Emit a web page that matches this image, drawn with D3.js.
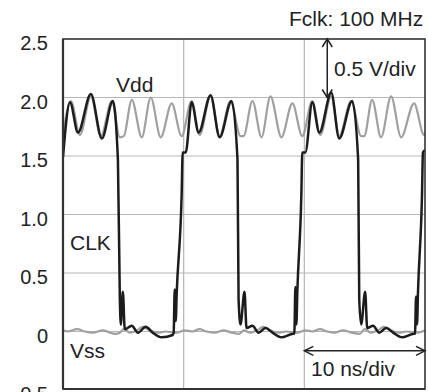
<!DOCTYPE html>
<html>
<head>
<meta charset="utf-8">
<script src="https://cdn.jsdelivr.net/npm/d3@7"></script>
<style>
  body { margin: 0; background: #fff; }
  text { font-family: Arial, "Liberation Sans", sans-serif; fill: #222; }
</style>
</head>
<body>
<div id="chart"></div>
<script>
// time in ns, voltage in V
var clk = [
  [0, 1.49], [0.58, 1.96], [1.24, 1.70], [2.31, 2.03], [3.22, 1.65], [4.13, 1.97],
  [4.55, 1.47], [4.71, 0.28], [4.79, 0.06], [4.96, 0.34], [5.12, 0.02], [5.70, 0.05],
  [6.20, -0.01], [6.86, 0.04], [7.44, -0.01], [8.18, -0.05], [9.09, -0.03], [9.17, -0.01],
  [9.26, 0.36], [9.34, 0.09], [9.42, 0.32], [9.83, 1.16], [9.92, 1.53], [10.17, 1.53],
  [10.66, 1.96], [11.24, 1.70], [12.23, 2.02], [12.98, 1.66], [13.97, 1.97], [14.46, 1.47],
  [14.55, 0.28], [14.71, 0.06], [15.04, 0.34], [15.21, 0.03], [15.70, 0.05], [16.20, -0.01],
  [16.78, 0.03], [17.36, -0.01], [18.10, -0.05], [19.09, -0.02], [19.17, -0.02], [19.26, 0.38],
  [19.34, 0.06], [19.42, 0.34], [19.75, 1.16], [19.83, 1.53], [20.08, 1.53],
  [20.66, 1.96], [21.24, 1.70], [22.23, 2.04], [22.89, 1.65], [23.97, 1.97], [24.46, 1.47],
  [24.55, 0.28], [24.71, 0.06], [25.04, 0.34], [25.21, 0.03], [25.70, 0.05], [26.20, -0.01],
  [26.78, 0.03], [27.36, -0.01], [28.10, -0.05], [29.09, -0.02], [29.17, -0.02], [29.26, 0.30],
  [29.34, 0.06], [29.42, 0.34], [29.75, 1.16], [29.83, 1.53], [30, 1.55]
];

var vdd = [
  [0, 1.68], [0.66, 1.97], [1.40, 1.68], [2.31, 2.01], [3.14, 1.67], [4.05, 1.97],
  [4.71, 1.66], [5.04, 1.67], [5.70, 1.98], [6.53, 1.66], [7.27, 2.00], [8.10, 1.66],
  [9.01, 1.95], [9.83, 1.67], [10.66, 1.97], [11.32, 1.68], [12.23, 2.01], [12.98, 1.67],
  [13.88, 1.97], [14.71, 1.67], [14.96, 1.67], [15.70, 1.97], [16.45, 1.66], [17.19, 2.01],
  [18.10, 1.66], [19.01, 1.95], [19.83, 1.67], [20.66, 1.97], [21.32, 1.68], [22.23, 2.01],
  [22.89, 1.67], [23.88, 1.97], [24.71, 1.67], [24.96, 1.67], [25.62, 1.98], [26.36, 1.66],
  [27.19, 2.01], [28.02, 1.66], [29.09, 1.95], [29.92, 1.68], [30, 1.70]
];

var vss = [
  [0, 0.01], [0.41, 0.00], [1.16, 0.02], [1.82, 0.00], [2.48, -0.01], [3.31, 0.01],
  [3.88, -0.01], [4.30, -0.02], [4.71, -0.01], [5.04, 0.02], [5.54, -0.01], [6.12, 0.01],
  [6.61, 0.04], [7.19, 0.01], [7.85, -0.01], [8.51, 0.00], [9.42, -0.01], [10.08, 0.01],
  [10.74, 0.00], [11.30, 0.02], [11.90, 0.00], [12.60, -0.01], [13.30, 0.01], [14.00, -0.01],
  [14.60, -0.02], [15.00, 0.01], [15.50, -0.01], [16.10, 0.01], [16.60, 0.04], [17.20, 0.01],
  [17.80, -0.01], [18.50, 0.00], [19.40, -0.01], [20.10, 0.01], [20.70, 0.00], [21.30, 0.02],
  [21.90, 0.00], [22.50, -0.01], [23.20, 0.01], [23.90, -0.01], [24.60, -0.02], [25.00, 0.02],
  [25.50, -0.01], [26.10, 0.01], [26.60, 0.04], [27.20, 0.01], [27.80, -0.01], [28.50, 0.00],
  [29.40, -0.01], [30, 0.01]
];

var yTicks = [-0.5, 0, 0.5, 1.0, 1.5, 2.0, 2.5];
var yTickLabels = ["-0.5", "0", "0.5", "1.0", "1.5", "2.0", "2.5"];
var yGrid = [0, 0.5, 1.0, 1.5, 2.0];
var xGrid = [10, 20];

var svgWidth = 428;
var svgHeight = 392;
var plotL = 63, plotR = 425, plotT = 39, plotB = 389;

var svg = d3.select("#chart")
  .append("svg")
  .attr("width", svgWidth)
  .attr("height", svgHeight);

var x = d3.scaleLinear().domain([0, 30]).range([plotL, plotR]);
var y = d3.scaleLinear().domain([-0.5, 2.5]).range([390, plotT]);

svg.append("clipPath").attr("id", "plot")
  .append("rect")
  .attr("x", plotL).attr("y", plotT)
  .attr("width", plotR - plotL).attr("height", plotB - plotT);

// grid
svg.append("g").selectAll("line")
  .data(yGrid).enter().append("line")
  .attr("x1", plotL).attr("x2", plotR)
  .attr("y1", d => y(d)).attr("y2", d => y(d))
  .attr("stroke", "#b5b5b5").attr("stroke-width", 1.2);

svg.append("g").selectAll("line")
  .data(xGrid).enter().append("line")
  .attr("x1", d => x(d)).attr("x2", d => x(d))
  .attr("y1", plotT).attr("y2", plotB)
  .attr("stroke", "#b5b5b5").attr("stroke-width", 1.2);

// y tick labels
svg.append("g").selectAll("text")
  .data(yTicks).enter().append("text")
  .attr("x", 48)
  .attr("y", d => y(d) + 11)
  .attr("text-anchor", "end")
  .style("font-size", "20px")
  .text((d, i) => yTickLabels[i]);

// traces
var line = d3.line()
  .x(d => x(d[0]))
  .y(d => y(d[1]))
  .curve(d3.curveMonotoneX);

var traces = svg.append("g").attr("clip-path", "url(#plot)");

traces.append("path").datum(vss)
  .attr("d", line).attr("fill", "none")
  .attr("stroke", "#a0a0a0").attr("stroke-width", 2.2)
  .attr("stroke-linejoin", "round");

traces.append("path").datum(vdd)
  .attr("d", line).attr("fill", "none")
  .attr("stroke", "#a0a0a0").attr("stroke-width", 2.2)
  .attr("stroke-linejoin", "round");

traces.append("path").datum(clk)
  .attr("d", line).attr("fill", "none")
  .attr("stroke", "#1c1c1c").attr("stroke-width", 2.5)
  .attr("stroke-linejoin", "round");

// frame
svg.append("rect")
  .attr("x", plotL).attr("y", plotT)
  .attr("width", plotR - plotL).attr("height", plotB - plotT)
  .attr("fill", "none").attr("stroke", "#333").attr("stroke-width", 1.6);
svg.append("line")
  .attr("x1", plotL).attr("x2", plotL).attr("y1", plotT).attr("y2", plotB)
  .attr("stroke", "#333").attr("stroke-width", 2.2);
svg.append("line")
  .attr("x1", plotL).attr("x2", plotR).attr("y1", plotB).attr("y2", plotB)
  .attr("stroke", "#333").attr("stroke-width", 2.2);

// scale arrows
function arrowHead(g, tx, ty, ax, ay, bx, by) {
  g.append("path")
    .attr("d", `M${ax},${ay}L${tx},${ty}L${bx},${by}`)
    .attr("fill", "none").attr("stroke", "#222").attr("stroke-width", 1.5);
}
var ann = svg.append("g");
var vx = x(21.9);
ann.append("line")
  .attr("x1", vx).attr("x2", vx).attr("y1", y(2.5)).attr("y2", y(2.0))
  .attr("stroke", "#222").attr("stroke-width", 1.5);
arrowHead(ann, vx, y(2.5), vx - 5, y(2.5) + 8, vx + 5, y(2.5) + 8);
arrowHead(ann, vx, y(2.0), vx - 5, y(2.0) - 8, vx + 5, y(2.0) - 8);

var hy = y(-0.165);
ann.append("line")
  .attr("x1", x(20)).attr("x2", x(30)).attr("y1", hy).attr("y2", hy)
  .attr("stroke", "#222").attr("stroke-width", 1.5);
arrowHead(ann, x(20), hy, x(20) + 9, hy - 4.5, x(20) + 9, hy + 4.5);
arrowHead(ann, x(30), hy, x(30) - 9, hy - 4.5, x(30) - 9, hy + 4.5);

// labels
var labels = [
  {t: "Fclk: 100 MHz", x: 289, y: 26},
  {t: "0.5 V/div", x: 334, y: 76},
  {t: "Vdd", x: 116, y: 92},
  {t: "CLK", x: 70, y: 250},
  {t: "Vss", x: 70, y: 358},
  {t: "10 ns/div", x: 311, y: 376}
];
svg.append("g").selectAll("text")
  .data(labels).enter().append("text")
  .attr("x", d => d.x).attr("y", d => d.y)
  .style("font-size", "21px")
  .text(d => d.t);
</script>
</body>
</html>
